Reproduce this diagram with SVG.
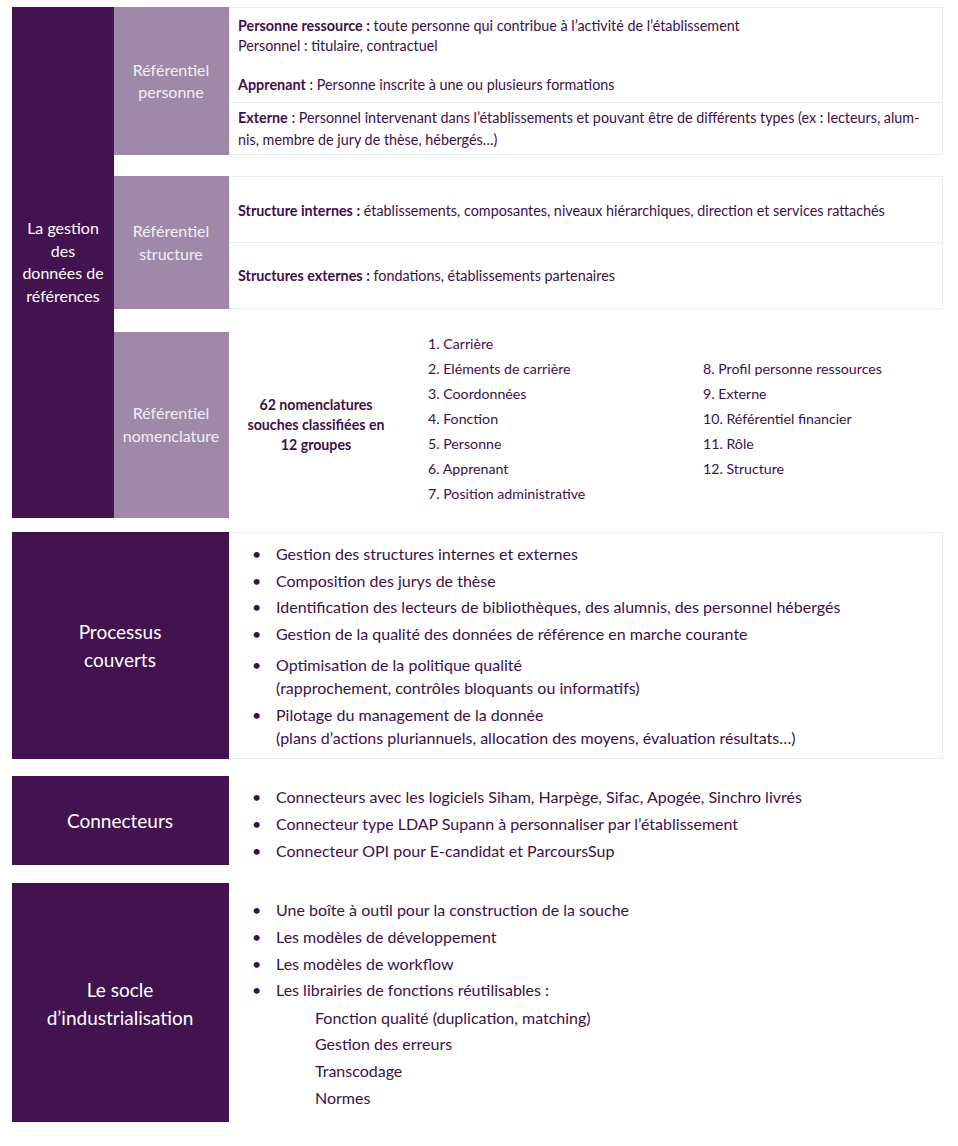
<svg xmlns="http://www.w3.org/2000/svg" width="958" height="1146" viewBox="0 0 958 1146">
<style>
.dark{fill:#42134f}
.light{fill:#a089a8}
.panel{fill:#ffffff;stroke:#e4eef6;stroke-width:1}
.div{stroke:#e4eef6;stroke-width:1}
text{font-family:Lato,"Liberation Sans",sans-serif}
.lbl{fill:#ffffff;font-size:16px;text-anchor:middle}
.big{fill:#ffffff;font-size:19px;text-anchor:middle}
.sub{fill:#f2eef3;font-size:16px;text-anchor:middle}
.t{fill:#3d1048;font-size:14.35px}
.n{fill:#3d1048;font-size:14.2px}
.b{font-weight:bold}
.bl{fill:#3d1048;font-size:16px}
</style>
<rect width="958" height="1146" fill="#ffffff"/>

<g id="gestion">
<rect class="dark" x="12" y="7" width="102" height="511"/>
<text class="lbl" x="63" y="234">La gestion</text>
<text class="lbl" x="63" y="257">des</text>
<text class="lbl" x="63" y="279">données de</text>
<text class="lbl" x="63" y="302">références</text>
</g>

<g id="ref-personne">
<rect class="light" x="114" y="7" width="115" height="148"/>
<text class="sub" x="171" y="76">Référentiel</text>
<text class="sub" x="171" y="98">personne</text>
<rect class="panel" x="229.5" y="7.5" width="713" height="147"/>
<line class="div" x1="229" y1="102.5" x2="943" y2="102.5"/>
<text class="t" x="238" y="31"><tspan class="b">Personne ressource :</tspan> toute personne qui contribue à l’activité de l’établissement</text>
<text class="t" x="238" y="51">Personnel : titulaire, contractuel</text>
<text class="t" x="238" y="90"><tspan class="b">Apprenant</tspan> : Personne inscrite à une ou plusieurs formations</text>
<text class="t" x="238" y="123"><tspan class="b">Externe</tspan> : Personnel intervenant dans l’établissements et pouvant être de différents types (ex : lecteurs, alum-</text>
<text class="t" x="238" y="145">nis, membre de jury de thèse, hébergés…)</text>
</g>

<g id="ref-structure">
<rect class="light" x="114" y="176" width="115" height="133"/>
<text class="sub" x="171" y="237">Référentiel</text>
<text class="sub" x="171" y="260">structure</text>
<rect class="panel" x="229.5" y="176.5" width="713" height="132"/>
<line class="div" x1="229" y1="242.5" x2="943" y2="242.5"/>
<text class="t" x="238" y="216"><tspan class="b">Structure internes :</tspan> établissements, composantes, niveaux hiérarchiques, direction et services rattachés</text>
<text class="t" x="238" y="281"><tspan class="b">Structures externes :</tspan> fondations, établissements partenaires</text>
</g>

<g id="ref-nomenclature">
<rect class="light" x="114" y="332" width="115" height="186"/>
<text class="sub" x="171" y="419">Référentiel</text>
<text class="sub" x="171" y="442">nomenclature</text>
<text class="n b" x="316" y="410" text-anchor="middle">62 nomenclatures</text>
<text class="n b" x="316" y="430" text-anchor="middle">souches classifiées en</text>
<text class="n b" x="316" y="450" text-anchor="middle">12 groupes</text>
<text class="n" x="428" y="349">1. Carrière</text>
<text class="n" x="428" y="374">2. Eléments de carrière</text>
<text class="n" x="428" y="399">3. Coordonnées</text>
<text class="n" x="428" y="424">4. Fonction</text>
<text class="n" x="428" y="449">5. Personne</text>
<text class="n" x="428" y="474">6. Apprenant</text>
<text class="n" x="428" y="499">7. Position administrative</text>
<text class="n" x="703" y="374">8. Profil personne ressources</text>
<text class="n" x="703" y="399">9. Externe</text>
<text class="n" x="703" y="424">10. Référentiel financier</text>
<text class="n" x="703" y="449">11. Rôle</text>
<text class="n" x="703" y="474">12. Structure</text>
</g>

<g id="processus">
<rect class="dark" x="12" y="532" width="217" height="227"/>
<text class="big" x="120" y="639">Processus</text>
<text class="big" x="120" y="667">couverts</text>
<rect class="panel" x="229.5" y="532.5" width="713" height="226"/>
<g class="bl">
<text x="252" y="560">•</text><text x="276" y="560">Gestion des structures internes et externes</text>
<text x="252" y="587">•</text><text x="276" y="587">Composition des jurys de thèse</text>
<text x="252" y="613">•</text><text x="276" y="613">Identification des lecteurs de bibliothèques, des alumnis, des personnel hébergés</text>
<text x="252" y="640">•</text><text x="276" y="640">Gestion de la qualité des données de référence en marche courante</text>
<text x="252" y="671">•</text><text x="276" y="671">Optimisation de la politique qualité</text>
<text x="276" y="694">(rapprochement, contrôles bloquants ou informatifs)</text>
<text x="252" y="721">•</text><text x="276" y="721">Pilotage du management de la donnée</text>
<text x="276" y="744">(plans d’actions pluriannuels, allocation des moyens, évaluation résultats…)</text>
</g>
</g>

<g id="connecteurs">
<rect class="dark" x="12" y="776" width="217" height="89"/>
<text class="big" x="120" y="828">Connecteurs</text>
<g class="bl">
<text x="252" y="803">•</text><text x="276" y="803">Connecteurs avec les logiciels Siham, Harpège, Sifac, Apogée, Sinchro livrés</text>
<text x="252" y="830">•</text><text x="276" y="830">Connecteur type LDAP Supann à personnaliser par l’établissement</text>
<text x="252" y="857">•</text><text x="276" y="857">Connecteur OPI pour E-candidat et ParcoursSup</text>
</g>
</g>

<g id="socle">
<rect class="dark" x="12" y="883" width="217" height="239"/>
<text class="big" x="120" y="997">Le socle</text>
<text class="big" x="120" y="1025">d’industrialisation</text>
<g class="bl">
<text x="252" y="916">•</text><text x="276" y="916">Une boîte à outil pour la construction de la souche</text>
<text x="252" y="943">•</text><text x="276" y="943">Les modèles de développement</text>
<text x="252" y="970">•</text><text x="276" y="970">Les modèles de workflow</text>
<text x="252" y="996">•</text><text x="276" y="996">Les librairies de fonctions réutilisables :</text>
<text x="315" y="1024">Fonction qualité (duplication, matching)</text>
<text x="315" y="1050">Gestion des erreurs</text>
<text x="315" y="1077">Transcodage</text>
<text x="315" y="1104">Normes</text>
</g>
</g>

<g id="connectors"></g>
</svg>
